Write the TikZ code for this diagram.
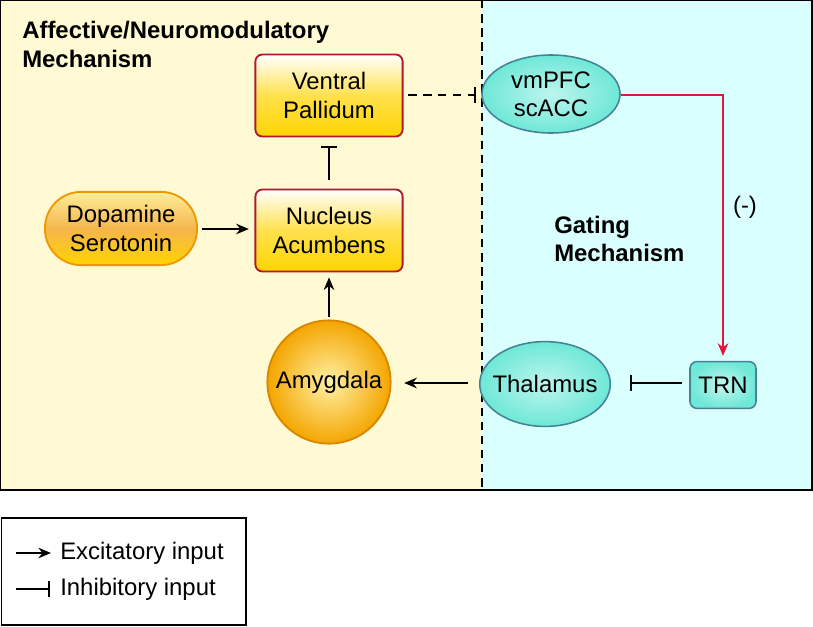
\documentclass[tikz,border=0pt]{standalone}
\usepackage{fontspec}
\setmainfont{Liberation Sans}
\usetikzlibrary{arrows.meta,shapes.geometric}
\definecolor{panelyellow}{RGB}{255,250,212}
\definecolor{panelcyan}{RGB}{218,255,255}
\definecolor{boxred}{RGB}{176,24,48}
\definecolor{gold}{RGB}{255,212,0}
\definecolor{deeporange}{RGB}{240,150,0}
\definecolor{tealfill}{RGB}{110,232,215}
\definecolor{tealedge}{RGB}{70,130,150}
\definecolor{gaterred}{RGB}{230,20,60}
\begin{document}
\begin{tikzpicture}[x=0.025cm,y=-0.025cm,%
% common options for the yellow boxes:
block/.style = {draw=boxred, rounded corners=5pt, line width=1.3pt, align=center,
            minimum width=3.68cm, minimum height=2.05cm,
            top color=white, bottom color=gold, middle color=gold!70},
% common options for the cyan nodes:
cell/.style = {ellipse, draw=tealedge, line width=1.1pt, align=center, inner sep=0pt,
            inner color=tealfill!45, outer color=tealfill},
% common options for the connectors:
excite/.style = {-{Stealth[length=9pt,width=7.5pt]}, line width=1.3pt},
inhibit/.style = {-{Bar[width=11pt,line width=1.5pt]}, line width=1.3pt},
font=\fontsize{17}{20}\selectfont]
% background panels
\useasboundingbox (0,0) rectangle (813,626);
\fill[panelyellow] (0,0) rectangle (482,490);
\fill[panelcyan] (482,0) rectangle (812,490);
\draw[line width=1.3pt] (0.5,0.5) rectangle (812,490);
\draw[line width=1.3pt, dash pattern=on 6pt off 4pt] (482,0) -- (482,490);
% titles
\node[anchor=north west, align=left, inner sep=0pt, font=\fontsize{17}{20.5}\selectfont\bfseries] (T1) at (22,21) {Affective/Neuromodulatory\\Mechanism};
\node[anchor=north west, align=left, inner sep=0pt, font=\fontsize{17}{19.5}\selectfont\bfseries] (T2) at (554,216) {Gating\\Mechanism};
% nodes
\node[block] (VP) at (329,95.5) {Ventral\\Pallidum};
\node[block] (NA) at (329,230.5) {Nucleus\\Acumbens};
\node[draw=deeporange, line width=1.3pt, rounded corners=0.9cm, align=center,
      minimum width=3.8cm, minimum height=1.83cm,
      top color=gold!40, bottom color=gold, middle color=deeporange!70] (DS) at (121,228.5) {Dopamine\\Serotonin};
\node[circle, draw=deeporange!90!black, line width=1.3pt, minimum size=3.08cm,
      inner color=gold!35!white, outer color=deeporange!75!gold] (AM) at (329,382) {Amygdala};
\node[cell, minimum width=3.45cm, minimum height=1.95cm] (PFC) at (551,94) {vmPFC\\scACC};
\node[cell, minimum width=3.1cm, minimum height=2.12cm, inner xsep=-4.5pt] (TH) at (545,384) {Thalamus};
\node[draw=tealedge, line width=1.1pt, rounded corners=5pt, minimum width=1.65cm, minimum height=1.17cm,
      inner color=tealfill!40, outer color=tealfill] (TRN) at (723,385) {TRN};
\coordinate (C1) at (723,95);
% connectors
\draw[excite, shorten <=3pt, shorten >=4pt] (DS.east |- 0,229) -- (NA.west |- 0,229);
\draw[excite, shorten <=1.5pt, shorten >=3.5pt] (AM.north) -- (NA.south);
\draw[inhibit, shorten <=6pt, shorten >=6pt] (NA.north) -- (VP.south);
\draw[inhibit, dash pattern=on 6pt off 4.5pt, shorten <=3.5pt, shorten >=3.5pt] (VP.east |- C1) -- (PFC.west |- C1);
\draw[-{Stealth[length=9pt,width=7.5pt]}, gaterred, line width=1.1pt, shorten >=3.5pt] (PFC.east |- C1) -- (C1) -- (TRN.north);
\node (NEG) at (745,207) {(-)};
\draw[inhibit, shorten <=5pt, shorten >=13.5pt] (TRN.west |- 0,383) -- (TH.east |- 0,383);
\draw[excite, shorten <=8pt, shorten >=9pt] (TH.west |- 0,383) -- (AM.east |- 0,383);
% legend
\draw[line width=1.3pt] (1.5,518) rectangle (246,625);
\coordinate (L1) at (16,553);
\coordinate (L2) at (16,589);
\draw[excite] (L1) -- ++(35,0);
\draw[inhibit] (L2) -- ++(34,0);
\node[anchor=west, inner sep=0pt] (EX) at (60,553) {Excitatory input};
\node[anchor=west, inner sep=0pt] (IN) at (60,589) {Inhibitory input};
\end{tikzpicture}
\end{document}
